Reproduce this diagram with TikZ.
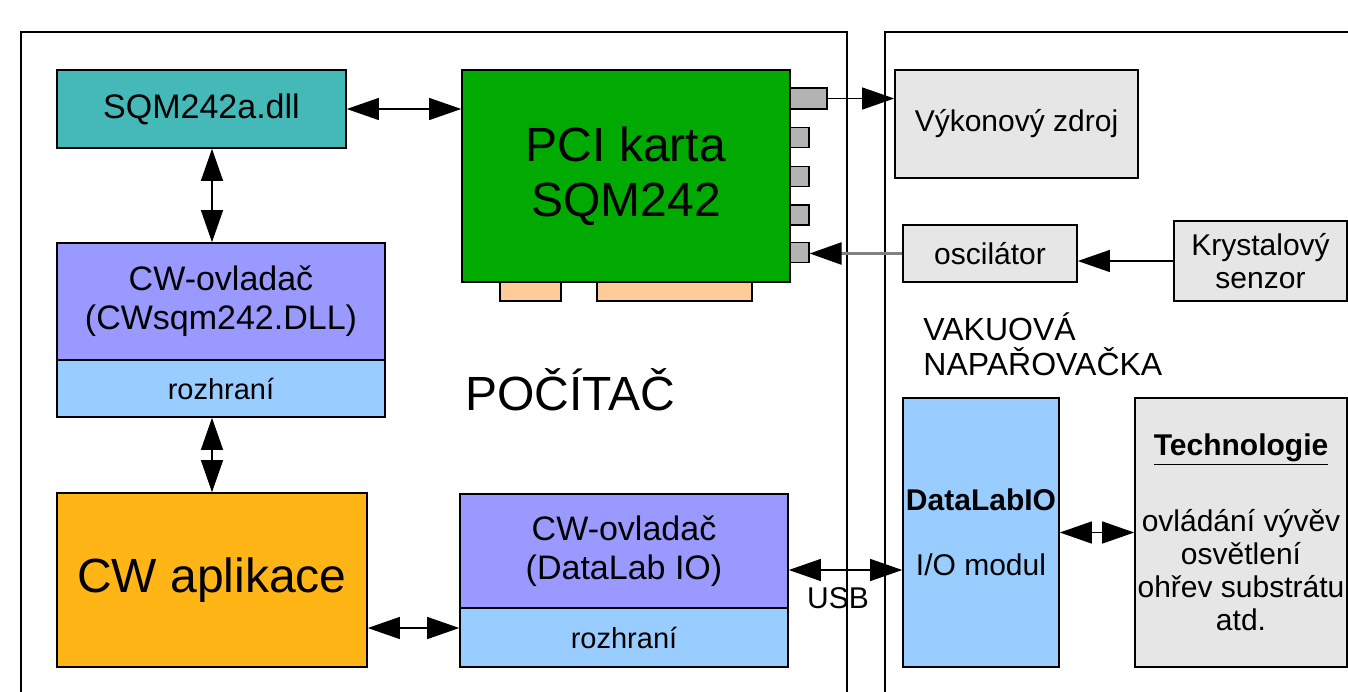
\documentclass[tikz,border=0pt]{standalone}
\usepackage{fontspec}
\setmainfont{Liberation Sans}
\usepackage{xcolor}
\usetikzlibrary{arrows, arrows.meta}
\usetikzlibrary{positioning}
\usetikzlibrary{calc}
\definecolor{dllteal}{RGB}{69,184,184}
\definecolor{kartagreen}{RGB}{0,170,0}
\definecolor{ovlpurple}{RGB}{153,153,255}
\definecolor{rozhblue}{RGB}{153,204,255}
\definecolor{aplorange}{RGB}{255,181,21}
\definecolor{boxgray}{RGB}{230,230,230}
\definecolor{kongray}{RGB}{179,179,179}
\definecolor{slotpeach}{RGB}{255,204,153}
\newcommand{\fbig}{\fontsize{24pt}{27.5pt}\selectfont}
\newcommand{\fmid}{\fontsize{17pt}{19.5pt}\selectfont}
\newcommand{\fnorm}{\fontsize{15pt}{16.5pt}\selectfont}
\newcommand{\fsmall}{\fontsize{14.5pt}{16.5pt}\selectfont}
\newcommand{\fvak}{\fontsize{16pt}{17.5pt}\selectfont}
\tikzset{
	blok/.style={draw, line width=0.8pt, inner sep=0pt, align=center},
	konektor/.style={draw, line width=0.6pt, fill=kongray, inner sep=0pt},
	slot/.style={draw, line width=0.6pt, fill=slotpeach, inner sep=0pt, minimum height=9.5pt},
	sip/.style={line width=0.6pt, -{Triangle[length=16pt,width=11pt]}},
	obesip/.style={line width=0.6pt, {Triangle[length=16pt,width=11pt]}-{Triangle[length=16pt,width=11pt]}},
	ramec/.style={line width=0.8pt}
}
\begin{document}
\begin{tikzpicture}[x=0.5pt, y=-0.5pt]
					\useasboundingbox (0,0) rectangle (1348,691);
					% draw frames
					\draw[ramec] (21,700) -- (21,32) -- (847,32) -- (847,700);
					\draw[ramec] (885,700) -- (885,32) -- (1360,32);
					\node[font=\fbig, anchor=base] (pocitac) at (570,410) {POČÍTAČ};
					\node[font=\fvak, align=left, anchor=west, inner sep=0pt] (napar) at (923,344) {VAKUOVÁ\\NAPAŘOVAČKA};
					
					% PCI card with connectors
					\node[konektor, minimum width=18.5pt, minimum height=10.5pt] (kon1) at (808.5,98.5) {};
					\foreach \y [count=\i from 2] in {137.5,176.5,215,252.5}
						\node[konektor, minimum width=9.5pt, minimum height=10pt] (kon\i) at (799.5,\y) {};
					\node[slot, minimum width=30.5pt] (slot1) at (530.5,291.5) {};
					\node[slot, minimum width=77.5pt] (slot2) at (674.5,291.5) {};
					\node[blok, fill=kartagreen, minimum width=164pt, minimum height=106pt, font=\fbig] (pci) at (626,176) {PCI karta\\SQM242};
					
					% software blocks
					\node[blok, fill=dllteal, minimum width=144.5pt, minimum height=39pt, font=\fmid] (dll) at (201.5,109) {SQM242a.dll};
					\node[blok, fill=ovlpurple, minimum width=164pt, minimum height=58.5pt, font=\fmid] (cwdll) at (221,301.5) {CW-ovladač\\(CWsqm242.DLL)};
					\node[blok, fill=rozhblue, minimum width=164pt, minimum height=28.5pt, font=\fsmall] (cwrozh) at (221,388.5) {rozhraní};
					\node[blok, fill=aplorange, minimum width=155pt, minimum height=87pt, font=\fbig] (apl) at (212,580) {CW aplikace};
					\node[blok, fill=ovlpurple, minimum width=164pt, minimum height=57pt, font=\fmid] (dlovl) at (624,551) {CW-ovladač\\(DataLab IO)};
					\node[blok, fill=rozhblue, minimum width=164pt, minimum height=29.5pt, font=\fsmall] (dlrozh) at (624,637.5) {rozhraní};
					
					% vacuum side
					\node[blok, fill=boxgray, minimum width=121.5pt, minimum height=54pt, font=\fnorm] (zdroj) at (1016.5,124) {Výkonový zdroj};
					\node[blok, fill=boxgray, minimum width=87pt, minimum height=28.5pt, font=\fnorm] (osc) at (990,253.5) {oscilátor};
					\node[blok, fill=boxgray, minimum width=86.5pt, minimum height=40pt, font=\fnorm] (senzor) at (1260.5,261) {Krystalový\\senzor};
					\node[blok, fill=rozhblue, minimum width=78pt, minimum height=134.5pt, font=\fnorm] (iomod) at (981,532.5) {\textbf{DataLabIO}\\[16pt]I/O modul};
					\node[blok, fill=boxgray, minimum width=106pt, minimum height=134.5pt, font=\fnorm] (tech) at (1241,532.5) {\textbf{\underline{Technologie}}\\[21.5pt]ovládání vývěv\\osvětlení\\ohřev substrátu\\atd.};
					
					% connections
					\draw[obesip] (dll.east) -- (dll.east -| pci.west);
					\draw[obesip] (dll.south -| apl.north) -- (cwdll.north -| apl.north);
					\draw[obesip] (cwrozh.south -| apl.north) -- (apl.north);
					\coordinate (aplvod) at ($(dlrozh.west)+(0,-9.5)$);
					\draw[obesip] (apl.east |- aplvod) -- (aplvod);
					\coordinate (usbvod) at ($(dlovl.east)+(0,19)$);
					\draw[obesip] (usbvod) -- (usbvod -| iomod.west);
					\node[font=\fnorm, anchor=base] (usb) at (838,608) {USB};
					\draw[sip] (kon1.east) -- (kon1.east -| zdroj.west);
					\draw[line width=1.2pt, gray, -{Triangle[length=16pt,width=11pt,color=black]}] (osc.west) -- (osc.west -| kon5.east);
					\draw[sip] (senzor.west) -- (senzor.west -| osc.east);
					\draw[obesip] (iomod.east) -- (tech.west);
				\end{tikzpicture}
\end{document}
